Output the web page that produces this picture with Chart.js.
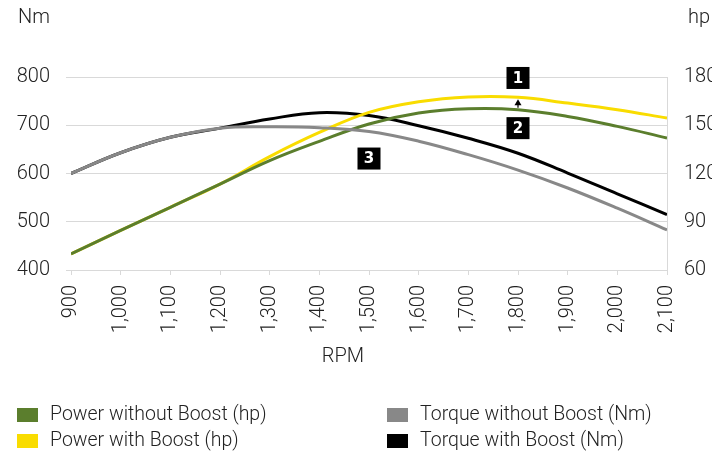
<!DOCTYPE html>
<html>
<head>
<meta charset="utf-8">
<script src="https://cdn.jsdelivr.net/npm/chart.js"></script>
<style>
  body { margin: 0; background: #fff; overflow: hidden; }
  #wrap { position: relative; width: 712px; height: 457px; }
  #legend { position: absolute; left: 0; top: 0; width: 712px; height: 457px; pointer-events: none; }
  .item { position: absolute; font: 300 19.5px Roboto, sans-serif; color: #222; white-space: nowrap; }
  .item span.box { position: absolute; width: 21px; height: 14px; left: 0; top: 4px; }
  .item span.txt { position: absolute; left: 33px; top: -2px; }
</style>
</head>
<body>
<div id="wrap">
  <canvas id="myChart" width="712" height="380"></canvas>
  <div id="legend"></div>
</div>
<script>
const rpm = [900, 1000, 1100, 1200, 1300, 1400, 1500, 1600, 1700, 1800, 1900, 2000, 2100];
const torqueNoBoost = [600, 643, 675, 694, 697, 695, 687, 667, 639, 607, 570, 528, 483];
const torqueBoost = [600, 643, 675, 694, 713, 726, 720, 699, 673, 642, 601, 558, 515];
const powerNoBoost = [70, 84.6, 99, 113.4, 128, 140, 150.8, 157.6, 160.3, 159.7, 155.5, 149.3, 142.1];
const powerBoost = [70, 84.6, 99, 113.4, 130.5, 145.5, 158, 164.6, 167.6, 167.4, 163.8, 159.7, 154.5];

const nmTicks = [400, 500, 600, 700, 800];
const hpTicks = [60, 90, 120, 150, 180];

// numbered callouts (rpm, Nm) and the arrow between the two power curves at 1800 rpm
const callouts = [
    { label: '1', rpm: 1800, nm: 798 },
    { label: '2', rpm: 1800, nm: 694 },
    { label: '3', rpm: 1500, nm: 631 }
];
const arrowRpm = 1800;

const green = '#5b7e2d';
const yellow = '#f9dc00';
const gray = '#888888';
const black = '#000000';
const gridColor = '#d9d9d9';
const font = { family: 'Roboto, sans-serif', size: 20, weight: '300' };

function pts(arr) {
    return arr.map((v, i) => ({ x: rpm[i], y: v }));
}

const legendItems = [
    { text: 'Power without Boost (hp)', color: green, left: 17, top: 408 },
    { text: 'Torque without Boost (Nm)', color: gray, left: 387, top: 408 },
    { text: 'Power with Boost (hp)', color: yellow, left: 17, top: 434 },
    { text: 'Torque with Boost (Nm)', color: black, left: 387, top: 434 }
];
const legend = document.getElementById('legend');
legendItems.forEach(it => {
    const d = document.createElement('div');
    d.className = 'item';
    d.style.left = it.left + 'px';
    d.style.top = (it.top - 4) + 'px';
    d.innerHTML = '<span class="box" style="background:' + it.color + '"></span><span class="txt">' + it.text + '</span>';
    legend.appendChild(d);
});

const extras = {
    id: 'extras',
    afterDraw(chart) {
        const ctx = chart.ctx;
        const x = chart.scales.x, y = chart.scales.y, y2 = chart.scales.y2;
        ctx.save();
        ctx.fillStyle = '#222';
        ctx.font = '300 20px Roboto, sans-serif';
        ctx.textBaseline = 'middle';
        ctx.textAlign = 'left';
        ctx.fillText('Nm', 18, 18);
        ctx.fillText('hp', 688, 18);
        ctx.textAlign = 'center';
        ctx.fillText('RPM', 343, 357);

        // arrow from green curve up to yellow curve
        const ax = x.getPixelForValue(arrowRpm);
        const idx = rpm.indexOf(arrowRpm);
        const yFrom = y2.getPixelForValue(powerNoBoost[idx]) - 2;
        const yTo = y2.getPixelForValue(powerBoost[idx]) + 2;
        ctx.strokeStyle = black;
        ctx.fillStyle = black;
        ctx.lineWidth = 1.2;
        ctx.beginPath();
        ctx.moveTo(ax, yFrom);
        ctx.lineTo(ax, yTo + 5);
        ctx.stroke();
        ctx.beginPath();
        ctx.moveTo(ax, yTo);
        ctx.lineTo(ax - 3.5, yTo + 6);
        ctx.lineTo(ax + 3.5, yTo + 6);
        ctx.closePath();
        ctx.fill();

        ctx.font = 'bold 15px "DejaVu Sans", sans-serif';
        callouts.forEach(c => {
            const cx = x.getPixelForValue(c.rpm);
            const cy = y.getPixelForValue(c.nm);
            ctx.fillStyle = black;
            ctx.fillRect(cx - 11.5, cy - 11, 23, 22);
            ctx.fillStyle = '#fff';
            ctx.textAlign = 'center';
            ctx.fillText(c.label, cx, cy + 1);
        });
        ctx.restore();
    }
};

const data = {
    datasets: [
        { label: 'Power without Boost (hp)', data: pts(powerNoBoost), yAxisID: 'y2', borderColor: green, order: 2 },
        { label: 'Power with Boost (hp)', data: pts(powerBoost), yAxisID: 'y2', borderColor: yellow, order: 3 },
        { label: 'Torque without Boost (Nm)', data: pts(torqueNoBoost), yAxisID: 'y', borderColor: gray, order: 1 },
        { label: 'Torque with Boost (Nm)', data: pts(torqueBoost), yAxisID: 'y', borderColor: black, order: 4 }
    ]
};
data.datasets.forEach(ds => {
    ds.borderWidth = 3;
    ds.pointRadius = 0;
    ds.fill = false;
    ds.tension = 0.4;
});

const config = {
    type: 'line',
    data: data,
    options: {
        responsive: false,
        animation: false,
        devicePixelRatio: 1,
        layout: { padding: { top: 77, left: 0, right: 0, bottom: 0 } },
        plugins: { legend: { display: false }, tooltip: { enabled: false } },
        scales: {
            x: {
                type: 'linear',
                min: rpm[0],
                max: rpm[rpm.length - 1],
                afterFit: s => { s.height = 110; },
                afterBuildTicks: s => { s.ticks = rpm.map(v => ({ value: v })); },
                grid: { drawOnChartArea: false, drawTicks: true, tickLength: 5, color: gridColor },
                border: { display: false },
                ticks: {
                    minRotation: 90, maxRotation: 90, autoSkip: false, padding: 10,
                    color: '#222', font: font,
                    callback: v => v.toLocaleString('en-US')
                }
            },
            y: {
                position: 'left',
                min: nmTicks[0],
                max: nmTicks[nmTicks.length - 1],
                afterFit: s => { s.width = 71; },
                afterBuildTicks: s => { s.ticks = nmTicks.map(v => ({ value: v })); },
                grid: { color: gridColor, drawTicks: true, tickLength: 5 },
                border: { display: false },
                ticks: { padding: 16, color: '#222', font: font }
            },
            y2: {
                position: 'right',
                min: hpTicks[0],
                max: hpTicks[hpTicks.length - 1],
                afterFit: s => { s.width = 45; },
                afterBuildTicks: s => { s.ticks = hpTicks.map(v => ({ value: v })); },
                grid: { display: false, drawTicks: false },
                border: { display: true, color: gridColor },
                ticks: { padding: 17, color: '#222', font: font }
            }
        }
    },
    plugins: [extras]
};

const myChart = new Chart(document.getElementById('myChart'), config);
</script>
</body>
</html>
